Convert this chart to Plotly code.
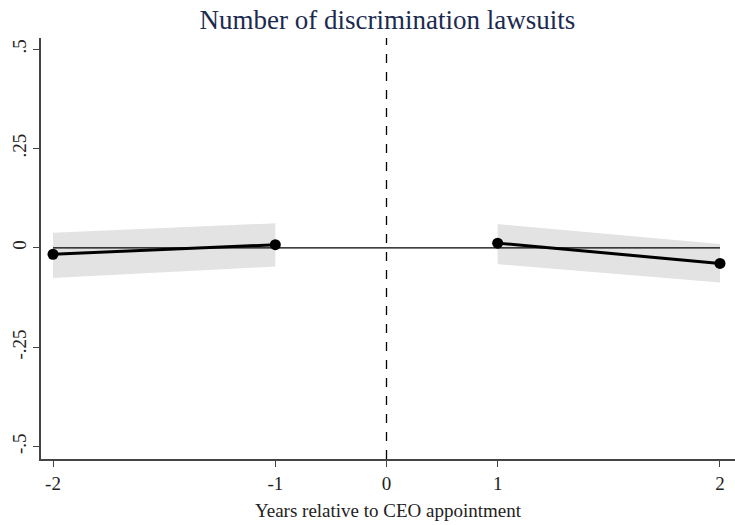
import plotly.graph_objects as go

# Event years and where each one sits on the horizontal axis
event_years = [-2, -1, 0, 1, 2]
event_pos = [-3, -1, 0, 1, 3]
pos_of = dict(zip(event_years, event_pos))

# Event-time coefficients with 95% confidence bands
pre_years = [-2, -1]
pre_coef = [-0.016, 0.008]
pre_lo = [-0.076, -0.047]
pre_hi = [0.038, 0.062]

post_years = [1, 2]
post_coef = [0.012, -0.039]
post_lo = [-0.041, -0.087]
post_hi = [0.060, 0.010]

y_ticks = [-0.5, -0.25, 0, 0.25, 0.5]
y_tick_text = ["-.5", "-.25", "0", ".25", ".5"]

SERIF = "Liberation Serif, Times New Roman, serif"
BAND = "#e3e3e3"
TXT = "#222222"

fig = go.Figure()

for yrs, lo, hi in [(pre_years, pre_lo, pre_hi), (post_years, post_lo, post_hi)]:
    xs = [pos_of[v] for v in yrs]
    fig.add_trace(go.Scatter(
        x=xs + xs[::-1], y=hi + lo[::-1], fill="toself", fillcolor=BAND,
        line=dict(width=0), mode="lines", hoverinfo="skip", showlegend=False))

# Zero reference line across the event window
fig.add_trace(go.Scatter(x=[pos_of[event_years[0]], pos_of[event_years[-1]]], y=[0, 0],
                         mode="lines", line=dict(color="black", width=1.3),
                         showlegend=False))

for yrs, ys in [(pre_years, pre_coef), (post_years, post_coef)]:
    fig.add_trace(go.Scatter(
        x=[pos_of[v] for v in yrs], y=ys, mode="lines+markers",
        line=dict(color="black", width=3),
        marker=dict(color="black", size=11), showlegend=False))

fig.add_shape(type="line", xref="x", yref="paper", x0=pos_of[0], x1=pos_of[0], y0=0, y1=1,
              line=dict(color="black", width=1.3, dash="dash"))

fig.update_layout(
    width=735, height=525,
    margin=dict(l=41, r=0, t=38, b=66),
    paper_bgcolor="white", plot_bgcolor="white",
    font=dict(family=SERIF, color=TXT, size=19),
    title=dict(text="Number of discrimination lawsuits", x=0.527, xanchor="center",
               y=0.962, yanchor="middle",
               font=dict(family=SERIF, size=27, color="#1c2a4f")),
)

fig.update_xaxes(
    range=[-3.108, 3.135], tickvals=event_pos, ticktext=[str(v) for v in event_years],
    showgrid=False, zeroline=False, showline=True, linecolor="#444444", linewidth=1.5,
    ticks="outside", ticklen=6, tickwidth=1.3, tickcolor="#444444",
    tickfont=dict(size=19, family=SERIF, color=TXT),
    title=dict(text="Years relative to CEO appointment", standoff=11,
               font=dict(size=19, family=SERIF, color=TXT)),
)
fig.update_yaxes(
    range=[-0.531, 0.528], tickvals=y_ticks, ticktext=y_tick_text, tickangle=-90,
    showgrid=False, zeroline=False, showline=True, linecolor="#444444", linewidth=1.5,
    ticks="outside", ticklen=6, tickwidth=1.3, tickcolor="#444444",
    tickfont=dict(size=19, family=SERIF, color=TXT),
)

fig.write_html("out.html")
